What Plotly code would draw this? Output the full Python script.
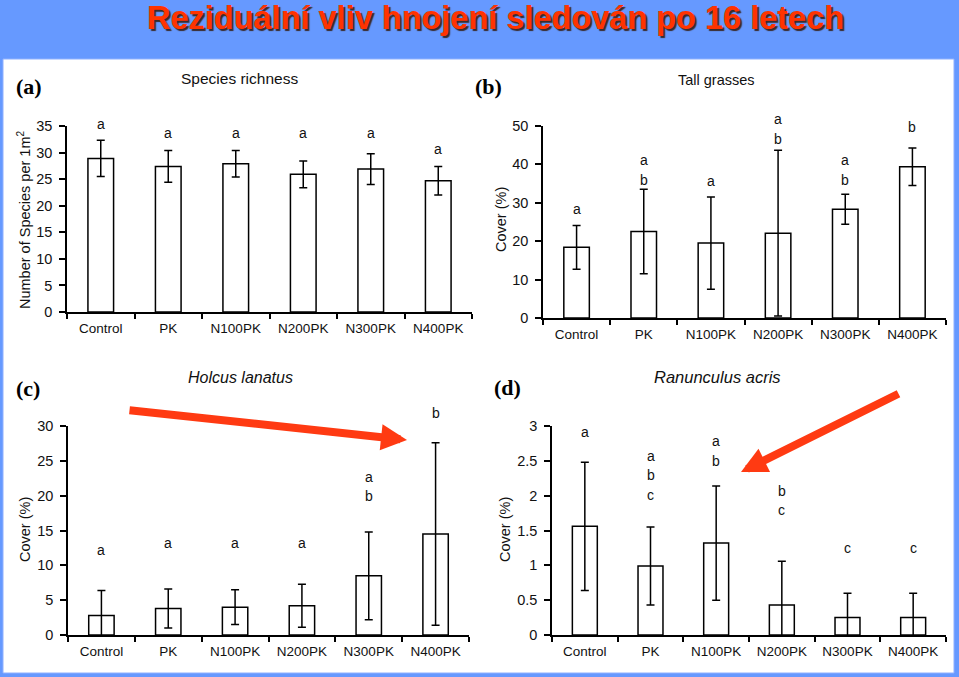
import plotly.graph_objects as go

W, H = 959, 677

SANS = 'Arial, Liberation Sans, sans-serif'
SERIF = 'Times New Roman, Liberation Serif, serif'

groups = ['Control', 'PK', 'N100PK', 'N200PK', 'N300PK', 'N400PK']

# (a) species richness
richness = [28.9, 27.4, 27.9, 25.9, 26.9, 24.7]
richness_err = [3.4, 3.0, 2.5, 2.5, 2.9, 2.7]
richness_letters = ['a', 'a', 'a', 'a', 'a', 'a']
richness_letter_y = [35.3, 33.6, 33.6, 33.6, 33.6, 30.7]

# (b) tall grasses
tall = [18.4, 22.5, 19.5, 22.1, 28.3, 39.4]
tall_err = [5.7, 11.0, 12.0, 21.6, 3.9, 4.9]
tall_letters = ['a', 'ab', 'a', 'ab', 'ab', 'b']
tall_letter_y = [28.5, 41.1, 35.7, 51.7, 41.1, 49.7]

# (c) Holcus lanatus
holcus = [2.8, 3.8, 4.0, 4.2, 8.5, 14.5]
holcus_err = [3.6, 2.8, 2.5, 3.1, 6.3, 13.1]
holcus_letters = ['a', 'a', 'a', 'a', 'ab', 'b']
holcus_letter_y = [12.2, 13.2, 13.2, 13.2, 22.7, 31.8]

# (d) Ranunculus acris
ranunculus = [1.56, 0.99, 1.32, 0.43, 0.25, 0.25]
ranunculus_err = [0.92, 0.56, 0.82, 0.63, 0.35, 0.35]
ranunculus_letters = ['a', 'abc', 'ab', 'bc', 'c', 'c']
ranunculus_letter_y = [2.92, 2.57, 2.78, 2.07, 1.25, 1.25]


def px(x):
    return x / W


def py(y):
    return 1 - y / H


panels = [
    dict(ax='', vals=richness, err=richness_err, letters=richness_letters, ly=richness_letter_y,
         xd=(67, 472), yd=(126, 312), ymax=35, dtick=5,
         title='Species richness', tsize=15.5, italic=False, tpos=(239, 79),
         label='(a)', lpos=(29, 86),
         ytitle='Number of Species per 1m<sup>2</sup>', ypos=(24, 220)),
    dict(ax='2', vals=tall, err=tall_err, letters=tall_letters, ly=tall_letter_y,
         xd=(543, 946), yd=(126, 318), ymax=50, dtick=10,
         title='Tall grasses', tsize=14.5, italic=False, tpos=(716, 80),
         label='(b)', lpos=(488, 86),
         ytitle='Cover (%)', ypos=(501, 220)),
    dict(ax='3', vals=holcus, err=holcus_err, letters=holcus_letters, ly=holcus_letter_y,
         xd=(68, 469), yd=(426, 635), ymax=30, dtick=5,
         title='Holcus lanatus', tsize=16, italic=True, tpos=(240, 377),
         label='(c)', lpos=(28, 388),
         ytitle='Cover (%)', ypos=(25, 530)),
    dict(ax='4', vals=ranunculus, err=ranunculus_err, letters=ranunculus_letters, ly=ranunculus_letter_y,
         xd=(552, 946), yd=(426, 635), ymax=3, dtick=0.5,
         title='Ranunculus acris', tsize=16.5, italic=True, tpos=(717, 377),
         label='(d)', lpos=(507, 387),
         ytitle='Cover (%)', ypos=(505, 530)),
]

fig = go.Figure()
annotations = []
layout_axes = {}


def paper_text(x, y, text, font, **kw):
    return dict(x=px(x), y=py(y), xref='paper', yref='paper', text=text,
                showarrow=False, xanchor='center', yanchor='middle', font=font, **kw)


for p in panels:
    xa, ya = 'x' + p['ax'], 'y' + p['ax']
    fig.add_trace(go.Bar(
        x=groups, y=p['vals'],
        xaxis=xa, yaxis=ya,
        width=0.38,
        marker=dict(color='white', line=dict(color='black', width=1.5)),
        error_y=dict(type='data', array=p['err'], color='black', thickness=1.5, width=4),
        showlegend=False,
    ))

    layout_axes['xaxis' + p['ax']] = dict(
        domain=[px(p['xd'][0]), px(p['xd'][1])], anchor=ya,
        showline=True, linecolor='black', linewidth=1.5,
        ticks='outside', tickson='boundaries', ticklen=5, tickwidth=1.5, tickcolor='black',
        tickfont=dict(family=SANS, size=13.5, color='#111'),
        ticklabelstandoff=3, automargin=False,
        showgrid=False, zeroline=False,
    )
    layout_axes['yaxis' + p['ax']] = dict(
        domain=[py(p['yd'][1]), py(p['yd'][0])], anchor=xa,
        range=[0, p['ymax']], dtick=p['dtick'],
        showline=True, linecolor='black', linewidth=1.5,
        ticks='outside', ticklen=6, tickwidth=1.5, tickcolor='black',
        tickfont=dict(family=SANS, size=14.5, color='#111'),
        ticklabelstandoff=4, automargin=False,
        showgrid=False, zeroline=False,
    )

    # significance letters, stacked downwards (y in axis-domain fraction so
    # letters above the axis top are not hidden)
    for g, letters, y0 in zip(groups, p['letters'], p['ly']):
        for k, ch in enumerate(letters):
            annotations.append(dict(
                x=g, y=y0 / p['ymax'], xref=xa, yref=ya + ' domain', text=ch,
                showarrow=False, xanchor='center', yanchor='middle',
                yshift=-19.5 * k, font=dict(family=SANS, size=14, color='#111'),
            ))

    annotations.append(paper_text(
        *p['tpos'], p['title'],
        dict(family=SANS, size=p['tsize'], color='#111',
             style='italic' if p['italic'] else 'normal')))
    annotations.append(paper_text(
        *p['lpos'], p['label'],
        dict(family=SERIF, size=22, color='black', weight='bold')))
    annotations.append(paper_text(
        *p['ypos'], p['ytitle'],
        dict(family=SANS, size=14.5, color='#111'), textangle=-90))

# slide title
annotations.append(paper_text(
    495, 18, 'Reziduální vliv hnojení sledován po 16 letech',
    dict(family=SANS, size=32.5, color='#ff3300', weight='bold',
         shadow='2px 2px 1px #3a2a2a'), borderpad=0))

# red arrows
for tip, tail in [((407, 440), (128, 410)), ((741, 472), (900, 393))]:
    annotations.append(dict(
        x=px(tip[0]), y=py(tip[1]), xref='paper', yref='paper',
        ax=tail[0] - tip[0], ay=tail[1] - tip[1],
        text='', showarrow=True, arrowhead=2, arrowsize=0.65, arrowwidth=8,
        arrowcolor='#ff3a12', standoff=0,
    ))

fig.update_layout(
    width=W, height=H,
    margin=dict(l=0, r=0, t=0, b=0),
    paper_bgcolor='#6699ff',
    plot_bgcolor='rgba(0,0,0,0)',
    font=dict(family=SANS),
    annotations=annotations,
    shapes=[dict(
        type='rect', xref='paper', yref='paper',
        x0=px(3), x1=px(954), y0=py(673), y1=py(59),
        fillcolor='white', line=dict(color='#8fb0ff', width=1), layer='below',
    )],
    **layout_axes,
)

fig.write_html(
    "out.html",
    config={'displayModeBar': False},
    post_script="document.body.style.margin='0';document.body.style.overflow='hidden';",
)
